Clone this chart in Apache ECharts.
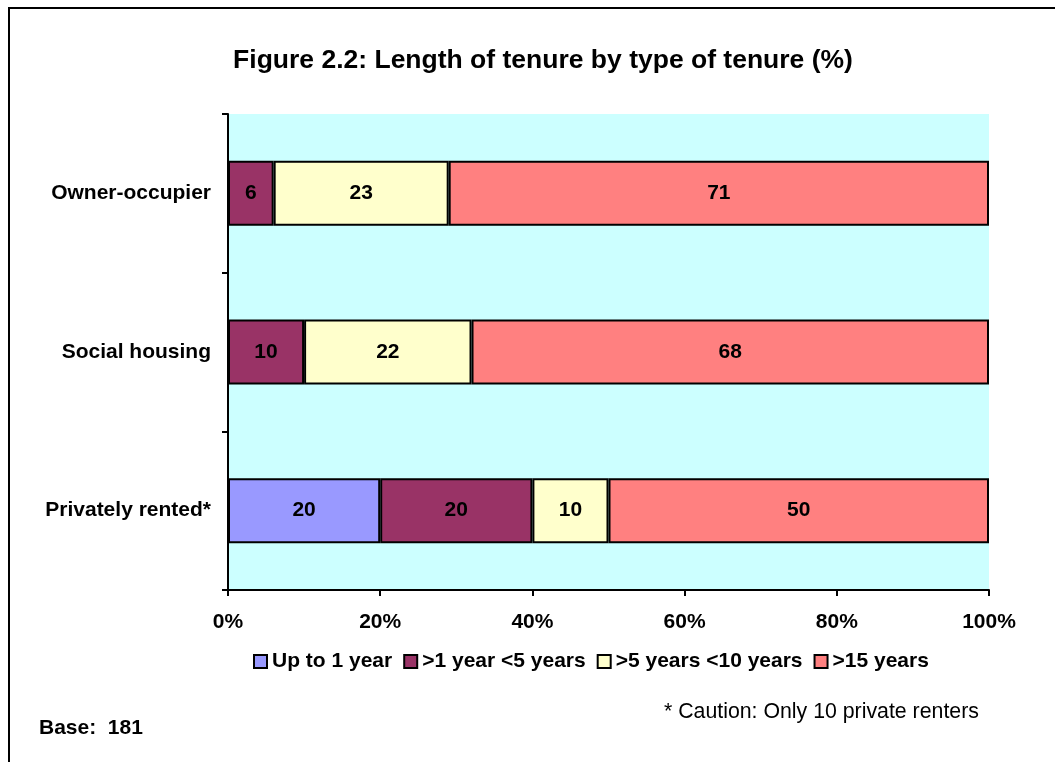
<!DOCTYPE html>
<html>
<head>
<meta charset="utf-8">
<script src="https://cdn.jsdelivr.net/npm/echarts@6/dist/echarts.min.js"></script>
<style>
html,body{margin:0;padding:0;background:#fff;}
#c{width:1055px;height:762px;}
</style>
</head>
<body>
<div id="c"></div>
<script>
const categories = ['Owner-occupier', 'Social housing', 'Privately rented*'];
const seriesNames = ['Up to 1 year', '>1 year <5 years', '>5 years <10 years', '>15 years'];
const upTo1 = [null, null, 20];
const oneTo5 = [6, 10, 20];
const fiveTo10 = [23, 22, 10];
const over15 = [71, 68, 50];
const xTicks = [0, 20, 40, 60, 80, 100];
const colors = ['#9999FF', '#993366', '#FFFFCC', '#FF8080'];

const FONT = '"Liberation Sans", Arial, sans-serif';
const FS = 21;
const chart = echarts.init(document.getElementById('c'), null, {renderer: 'canvas'});
const values = [upTo1, oneTo5, fiveTo10, over15];

chart.setOption({
  animation: false,
  backgroundColor: '#fff',
  title: {
    text: 'Figure 2.2: Length of tenure by type of tenure (%)',
    left: 538, top: 42, textAlign: 'center',
    textStyle: {fontFamily: FONT, fontSize: 26.5, fontWeight: 'bold', color: '#000'}
  },
  legend: {
    data: seriesNames,
    left: 248, top: 646,
    itemWidth: 13, itemHeight: 13, itemGap: 11,
    icon: 'rect',
    itemStyle: {borderColor: '#000', borderWidth: 2},
    textStyle: {fontFamily: FONT, fontSize: FS, fontWeight: 'bold', color: '#000'}
  },
  grid: {left: 228, right: 66, top: 114, bottom: 172, containLabel: false,
         show: true, backgroundColor: '#CCFFFF', borderWidth: 0},
  xAxis: {
    type: 'value', min: xTicks[0], max: xTicks[xTicks.length-1], interval: 20,
    axisLine: {show: true, lineStyle: {color: '#000', width: 2}},
    axisTick: {show: true, length: 6, lineStyle: {color: '#000', width: 2}},
    splitLine: {show: false},
    axisLabel: {formatter: '{value}%', fontFamily: FONT, fontSize: FS, fontWeight: 'bold', color: '#000', margin: 22}
  },
  yAxis: {
    type: 'category', data: categories, inverse: true,
    axisLine: {show: true, lineStyle: {color: '#000', width: 2}},
    axisTick: {show: true, length: 6, alignWithLabel: false, lineStyle: {color: '#000', width: 2}},
    axisLabel: {fontFamily: FONT, fontSize: FS, fontWeight: 'bold', color: '#000', margin: 17}
  },
  series: seriesNames.map((n, i) => ({
    name: n, type: 'bar', stack: 'total', data: values[i], barWidth: '41%',
    itemStyle: {color: colors[i], borderColor: '#000', borderWidth: 2},
    label: {show: true, position: 'inside', fontFamily: FONT, fontSize: FS, fontWeight: 'bold', color: '#000'}
  })),
  graphic: [
    {type: 'rect', shape: {x: 9, y: 8, width: 1200, height: 900}, style: {fill: 'none', stroke: '#000', lineWidth: 2}, z: 100},
    {type: 'text', left: 664, top: 702, style: {text: '* Caution: Only 10 private renters', font: '21.3px "Liberation Sans", Arial, sans-serif', fill: '#000'}},
    {type: 'text', left: 39, top: 718, style: {text: 'Base:  181', font: 'bold 21px "Liberation Sans", Arial, sans-serif', fill: '#000'}}
  ]
});
</script>
</body>
</html>
